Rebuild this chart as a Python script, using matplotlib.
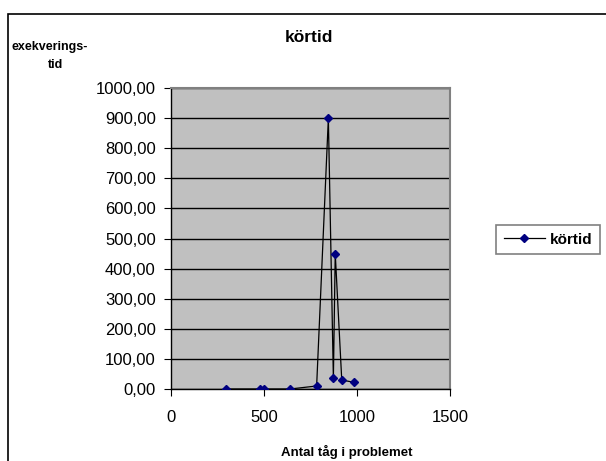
import matplotlib.pyplot as plt
from matplotlib.patches import Rectangle
from matplotlib.ticker import FuncFormatter

plt.rcParams['font.family'] = ['Liberation Sans', 'DejaVu Sans']

# antal tåg vs körtid
antal = [295, 480, 500, 640, 783, 846, 873, 883, 918, 984]
kortid = [0, 0, 0, 0, 10, 900, 35, 450, 30, 22]

x_ticks = [0, 500, 1000, 1500]
y_ticks = [0, 100, 200, 300, 400, 500, 600, 700, 800, 900, 1000]

fig = plt.figure(figsize=(6.06, 4.61), dpi=100)
ax = fig.add_axes([171 / 606, 72 / 461, 279 / 606, 301 / 461])

ax.set_facecolor('#c0c0c0')
ax.plot(antal, kortid, color='black', lw=0.9, marker='D', ms=4.5,
        mfc='#000080', mec='#000080', label='körtid', zorder=3)

ax.set_xlim(0, 1500)
ax.set_ylim(0, 1000)
ax.set_xticks(x_ticks)
ax.set_yticks(y_ticks)
ax.yaxis.set_major_formatter(FuncFormatter(lambda v, p: f"{v:.2f}".replace('.', ',')))
ax.grid(axis='y', color='black', lw=1)
ax.set_axisbelow(True)

for s in ['top', 'right']:
    ax.spines[s].set_color('#808080')
    ax.spines[s].set_linewidth(1.5)
for s in ['left', 'bottom']:
    ax.spines[s].set_color('black')
    ax.spines[s].set_linewidth(1)

ax.tick_params(axis='y', direction='out', length=5, pad=6, labelsize=12)
ax.tick_params(axis='x', direction='out', length=5, pad=10, labelsize=12)

fig.text(309 / 606, 1 - 37 / 461, 'körtid', ha='center', va='center',
         fontsize=12.5, fontweight='bold')
fig.text(12 / 606, 1 - 47 / 461, 'exekverings-', ha='left', va='center',
         fontsize=9, fontweight='bold')
fig.text(55 / 606, 1 - 65 / 461, 'tid', ha='center', va='center',
         fontsize=9, fontweight='bold')
fig.text(347 / 606, 1 - 452 / 461, 'Antal tåg i problemet', ha='center', va='center',
         fontsize=9.5, fontweight='bold')

leg = ax.legend(loc='center', bbox_to_anchor=(548 / 606, 1 - 239.5 / 461),
                bbox_transform=fig.transFigure, fancybox=False, frameon=True,
                prop={'weight': 'bold', 'size': 11}, handlelength=2.7,
                handletextpad=0.3, borderpad=0.5, borderaxespad=0)
leg.get_frame().set_edgecolor('#606060')
leg.get_frame().set_linewidth(1.2)

# yttre ram runt diagrammet
fig.patches.append(Rectangle((8 / 606, -0.05), 1.1, 1 - 14 / 461 + 0.05,
                             transform=fig.transFigure, fill=False,
                             edgecolor='black', lw=1.2))

fig.savefig('out.png', dpi=100)
